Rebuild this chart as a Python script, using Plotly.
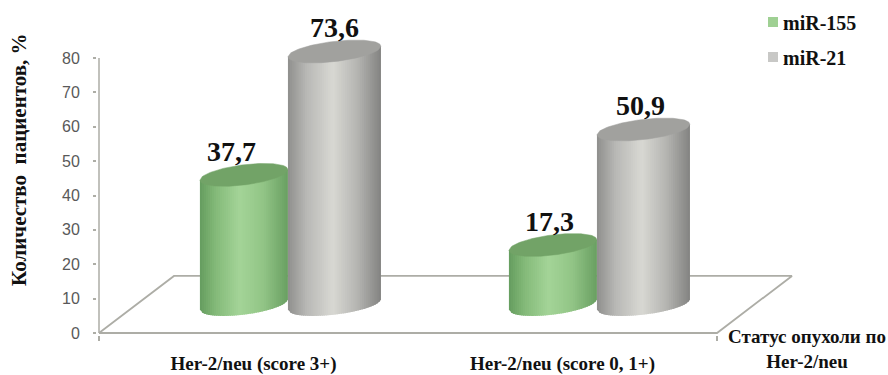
import plotly.graph_objects as go

# Chart data
categories = ["Her-2/neu (score 3+)", "Her-2/neu (score 0, 1+)"]
series_names = ["miR-155", "miR-21"]
mir155_values = [37.7, 17.3]
mir21_values = [73.6, 50.9]
y_ticks = [0, 10, 20, 30, 40, 50, 60, 70, 80]

W, H = 888, 375
SERIF = "Liberation Serif"
SANS = "Liberation Sans"
AXIS_COLOR = "#adada6"

# Canvas layout: the axes are stretched past their ticks so the 3D marks fit inside them
PX_PER_UNIT = 3.4375
PX_PER_CATEGORY = 309
AXIS_LEFT, AXIS_BOTTOM = 97, 335
ZERO_X, ZERO_Y = 99, 333

# Cylinder geometry, x in category units and y in axis units
DEPTH = 8.3          # height of the cylinder base centre above the floor front edge
CAP_MINOR = 2.95     # vertical semi-axis of the end ellipses
CAP_TILT = 1.55      # rise of the ellipse towards its right-hand side
FLOOR_BACK = 16.6
FLOOR_SKEW = 0.2427
STRIPS = 44
STRIP_OVERLAP = 0.03
SERIES_STYLE = [
    dict(offset=-0.031, half=0.1424, cap="#72a367",
         stops=[(0, "#659d5f"), (0.18, "#84ba79"), (0.45, "#a4d498"), (0.72, "#92c586"), (1, "#699f62")]),
    dict(offset=0.262, half=0.1505, cap="#a1a19e",
         stops=[(0, "#8f8f8d"), (0.2, "#b8b8b5"), (0.48, "#d8d8d3"), (0.75, "#b4b4b1"), (1, "#838381")]),
]


def shade(u, stops):
    for (u0, c0), (u1, c1) in zip(stops, stops[1:]):
        if u <= u1:
            f = (u - u0) / (u1 - u0)
            rgb = [round(int(c0[i:i + 2], 16) * (1 - f) + int(c1[i:i + 2], 16) * f) for i in (1, 3, 5)]
            return "rgb({},{},{})".format(*rgb)
    return stops[-1][1]


def front_edge(t):
    return -CAP_MINOR * (1 - t * t) ** 0.5 + CAP_TILT * t


def add_cylinder(fig, center, value, style, name):
    half = style["half"]
    cx = center + style["offset"]
    top = value + DEPTH
    # Body: narrow vertical strips, each running slightly under the next so no seams show
    for k in range(STRIPS):
        t0 = -1 + 2 * k / STRIPS
        t1 = min(1.0, -1 + 2 * (k + 1) / STRIPS + STRIP_OVERLAP)
        color = shade((k + 0.5) / STRIPS, style["stops"])
        fig.add_trace(go.Scatter(
            x=[cx + half * t0, cx + half * t1, cx + half * t1, cx + half * t0, cx + half * t0],
            y=[DEPTH + front_edge(t0), DEPTH + front_edge(t1), top + CAP_TILT * t1, top + CAP_TILT * t0, DEPTH + front_edge(t0)],
            mode="lines", fill="toself", fillcolor=color,
            line=dict(width=0),
            showlegend=False, hoverinfo="skip", name=name,
        ))
    # Top cap
    n = 72
    ts = [-1 + 2 * i / n for i in range(n + 1)]
    upper = [top + CAP_MINOR * (1 - t * t) ** 0.5 + CAP_TILT * t for t in ts]
    lower = [top + front_edge(t) for t in ts]
    fig.add_trace(go.Scatter(
        x=[cx + half * t for t in ts] + [cx + half * t for t in reversed(ts)],
        y=upper + lower[::-1],
        mode="lines", fill="toself", fillcolor=style["cap"],
        line=dict(color=style["cap"], width=0.5),
        showlegend=False, hoverinfo="skip", name=name,
    ))


fig = go.Figure()

# Vertical axis line and floor outline of the 3D plot area
fig.add_trace(go.Scatter(
    x=[-0.5, -0.5], y=[0, y_ticks[-1]],
    mode="lines", line=dict(color=AXIS_COLOR, width=1.5),
    showlegend=False, hoverinfo="skip",
))
fig.add_trace(go.Scatter(
    x=[-0.5, -0.5 + FLOOR_SKEW, 1.5 + FLOOR_SKEW, 1.5, -0.5],
    y=[0, FLOOR_BACK, FLOOR_BACK, 0, 0],
    mode="lines", line=dict(color=AXIS_COLOR, width=1.8),
    showlegend=False, hoverinfo="skip",
))

values_by_series = [mir155_values, mir21_values]
for pos in range(len(categories)):
    for values, style, name in zip(values_by_series, SERIES_STYLE, series_names):
        add_cylinder(fig, pos, values[pos], style, name)

# Value labels above the cylinders; each is nudged sideways per category and series
label_shift = [[-0.039, -0.001], [-0.01, -0.01]]
annotations = []
for pos in range(len(categories)):
    for s, (values, style) in enumerate(zip(values_by_series, SERIES_STYLE)):
        annotations.append(dict(
            x=pos + style["offset"] + label_shift[pos][s], y=values[pos] + DEPTH + 6.9,
            text="<b>" + f"{values[pos]:.1f}".replace(".", ",") + "</b>",
            showarrow=False, xanchor="center", yanchor="middle",
            font=dict(family=SERIF, size=28, color="#111111"),
        ))

# Axis captions
annotations.append(dict(
    xref="paper", yref="paper", x=19 / W, y=1 - 160 / H,
    text="<b>Количество  пациентов, %</b>", textangle=-90, showarrow=False,
    xanchor="center", yanchor="middle",
    font=dict(family=SERIF, size=21, color="#111111"),
))
annotations.append(dict(
    xref="paper", yref="paper", x=807 / W, y=1 - 349 / H,
    text="<b>Статус опухоли по<br>Her-2/neu</b>", showarrow=False,
    xanchor="center", yanchor="middle", align="center",
    font=dict(family=SERIF, size=19, color="#111111"),
))

# Legend swatches and names
shapes = []
legend_colors = ["#9fd093", "#c8c8c6"]
for i, (name, col) in enumerate(zip(series_names, legend_colors)):
    py = 22 + 35 * i
    shapes.append(dict(
        type="rect", xref="paper", yref="paper", layer="above",
        x0=768 / W, x1=778 / W, y0=1 - (py + 5) / H, y1=1 - (py - 5) / H,
        fillcolor=col, line=dict(width=0),
    ))
    annotations.append(dict(
        xref="paper", yref="paper", x=781 / W, y=1 - (py + 1) / H,
        text=f"<b>{name}</b>", showarrow=False, xanchor="left", yanchor="middle",
        font=dict(family=SERIF, size=20, color="#111111"),
    ))

fig.update_layout(
    width=W, height=H, margin=dict(l=0, r=0, t=0, b=0),
    paper_bgcolor="white", plot_bgcolor="white",
    showlegend=False, annotations=annotations, shapes=shapes,
    xaxis=dict(
        domain=[AXIS_LEFT / W, 1],
        range=[-0.5 - (ZERO_X - AXIS_LEFT) / PX_PER_CATEGORY, -0.5 + (W - ZERO_X) / PX_PER_CATEGORY],
        tickmode="array", tickvals=[0, 1], ticktext=[f"<b>{c}</b>" for c in categories],
        ticks="", showgrid=False, zeroline=False, showline=False, automargin=False,
        ticklabelstandoff=15,
        tickfont=dict(family=SERIF, size=19, color="#111111"),
        minor=dict(tickmode="array", tickvals=[-0.5, 1.5], ticks="outside", ticklen=5,
                   tickcolor=AXIS_COLOR, tickwidth=1.5, showgrid=False),
    ),
    yaxis=dict(
        domain=[(H - AXIS_BOTTOM) / H, 1],
        range=[-(AXIS_BOTTOM - ZERO_Y) / PX_PER_UNIT, ZERO_Y / PX_PER_UNIT],
        tickmode="array", tickvals=y_ticks,
        ticks="outside", ticklen=3, tickcolor=AXIS_COLOR, tickwidth=1.5,
        showgrid=False, zeroline=False, showline=False, automargin=False,
        ticklabelstandoff=10,
        tickfont=dict(family=SANS, size=16, color="#595959"),
    ),
)

fig.write_html("out.html")
